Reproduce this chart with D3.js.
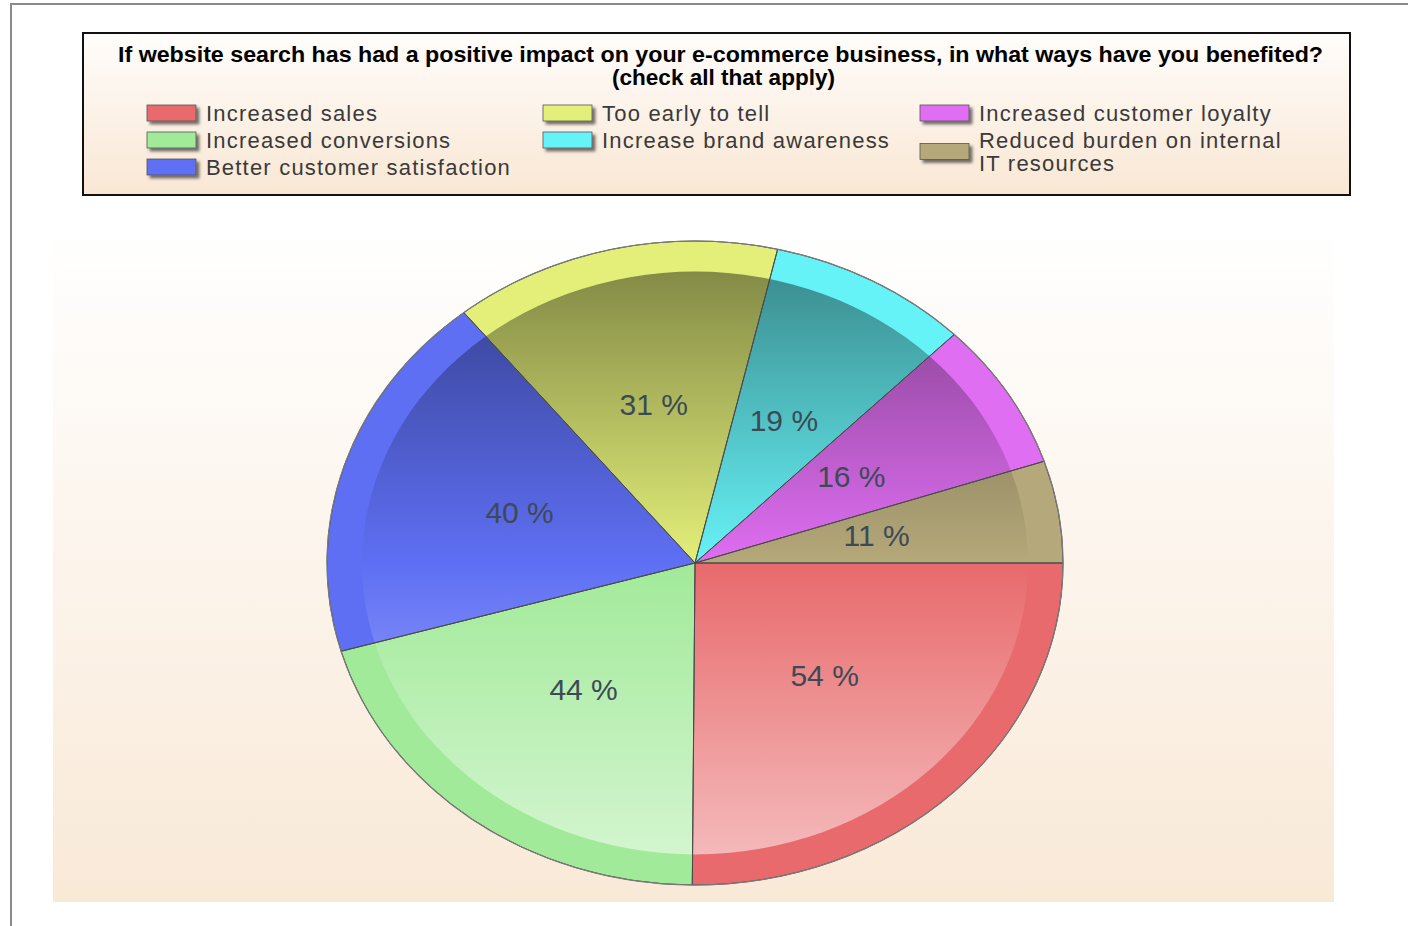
<!DOCTYPE html>
<html>
<head>
<meta charset="utf-8">
<script src="https://cdn.jsdelivr.net/npm/d3@7"></script>
<style>
  html, body { margin: 0; padding: 0; background: #ffffff; }
  svg { display: block; }
</style>
</head>
<body>
<svg id="chart" width="1408" height="926"></svg>
<script>
// ---- data ----
const titleLines = [
  "If website search has had a positive impact on your e-commerce business, in what ways have you benefited?",
  "(check all that apply)"
];
const categories = [
  "Increased sales",
  "Increased conversions",
  "Better customer satisfaction",
  "Too early to tell",
  "Increase brand awareness",
  "Increased customer loyalty",
  "Reduced burden on internal IT resources"
];
const legendLabels = [
  ["Increased sales"],
  ["Increased conversions"],
  ["Better customer satisfaction"],
  ["Too early to tell"],
  ["Increase brand awareness"],
  ["Increased customer loyalty"],
  ["Reduced burden on internal", "IT resources"]
];
const values = [54, 44, 40, 31, 19, 16, 11];
const colors = ["#e86a6c", "#a1ea99", "#5e6ff4", "#e3ef79", "#66f3f7", "#df6ef2", "#b5a87a"];

// ---- layout ----
const W = 1408, H = 926;
const svg = d3.select("#chart");
const defs = svg.append("defs");

// gradients
const bgGrad = defs.append("linearGradient").attr("id", "bgGrad")
  .attr("x1", 0).attr("y1", 0).attr("x2", 0).attr("y2", 1);
bgGrad.append("stop").attr("offset", "0%").attr("stop-color", "#ffffff");
bgGrad.append("stop").attr("offset", "100%").attr("stop-color", "#f9e9d7");

const legGrad = defs.append("linearGradient").attr("id", "legGrad")
  .attr("x1", 0).attr("y1", 0).attr("x2", 0).attr("y2", 1);
legGrad.append("stop").attr("offset", "0%").attr("stop-color", "#fffdfb");
legGrad.append("stop").attr("offset", "100%").attr("stop-color", "#f9e7d4");

const shadow = defs.append("filter").attr("id", "swShadow")
  .attr("x", "-20%").attr("y", "-40%").attr("width", "150%").attr("height", "200%");
shadow.append("feDropShadow").attr("dx", 3).attr("dy", 3).attr("stdDeviation", 1.5)
  .attr("flood-color", "#000").attr("flood-opacity", 0.55);

// outer frame
svg.append("rect").attr("x", 11).attr("y", 4).attr("width", W).attr("height", H)
  .attr("fill", "none").attr("stroke", "#8a8a8a").attr("stroke-width", 2);

// legend box
svg.append("rect").attr("x", 83).attr("y", 33).attr("width", 1267).attr("height", 162)
  .attr("fill", "url(#legGrad)").attr("stroke", "#111").attr("stroke-width", 2);

svg.selectAll("text.title").data(titleLines).join("text")
  .attr("class", "title")
  .attr("x", (d, i) => i === 0 ? 720.5 : 723.5)
  .attr("y", (d, i) => i === 0 ? 62 : 85)
  .attr("text-anchor", "middle")
  .attr("textLength", (d, i) => i === 0 ? 1205 : 223)
  .attr("lengthAdjust", "spacingAndGlyphs")
  .style("font-family", "'Liberation Sans', Arial, sans-serif")
  .style("font-weight", "bold")
  .style("font-size", "22px")
  .attr("fill", "#000")
  .text(d => d);

// legend items
const colX = [147, 543, 920];
const rowY = [113, 140, 167];
const colOf = i => (i < 3 ? 0 : (i < 5 ? 1 : 2));
const colStart = [0, 3, 5];
const legend = svg.append("g");
categories.forEach((c, i) => {
  const col = colOf(i), row = i - colStart[col];
  const lines = legendLabels[i];
  const cy = rowY[row] + (lines.length - 1) * 11.5;
  legend.append("rect")
    .attr("x", colX[col]).attr("y", cy - 8).attr("width", 49).attr("height", 16)
    .attr("fill", colors[i]).attr("stroke", "#555").attr("stroke-width", 0.8)
    .attr("filter", "url(#swShadow)");
  lines.forEach((ln, k) => {
    legend.append("text")
      .attr("x", colX[col] + 59).attr("y", rowY[row] + k * 23 + 8)
      .style("font-family", "'Liberation Sans', Arial, sans-serif")
      .style("font-size", "22px")
      .style("letter-spacing", "1.2px")
      .attr("fill", "#3a3a3a")
      .text(ln);
  });
});

// plot background
svg.append("rect").attr("x", 53).attr("y", 226).attr("width", 1281).attr("height", 676)
  .attr("fill", "url(#bgGrad)");

// ---- pie ----
const cx = 695, cy = 563, rx = 368, ry = 322, innerFrac = 0.905;
const pie = d3.pie().sort(null).value(d => d)
  .startAngle(Math.PI / 2).endAngle(Math.PI / 2 + 2 * Math.PI);
const arcs = pie(values);
const arc = d3.arc().innerRadius(0).outerRadius(rx);
const innerArc = d3.arc().innerRadius(0).outerRadius(rx * innerFrac);

const overlay = defs.append("linearGradient").attr("id", "shade")
  .attr("gradientUnits", "userSpaceOnUse")
  .attr("x1", 0).attr("x2", 0).attr("y1", -rx * innerFrac).attr("y2", rx * innerFrac);
overlay.append("stop").attr("offset", "0%").attr("stop-color", "#000").attr("stop-opacity", 0.42);
overlay.append("stop").attr("offset", "50%").attr("stop-color", "#000").attr("stop-opacity", 0.0);
overlay.append("stop").attr("offset", "50%").attr("stop-color", "#fff").attr("stop-opacity", 0.0);
overlay.append("stop").attr("offset", "100%").attr("stop-color", "#fff").attr("stop-opacity", 0.53);

const pg = svg.append("g").attr("transform", `translate(${cx},${cy}) scale(1,${ry / rx})`);
pg.selectAll("path.slice").data(arcs).join("path")
  .attr("class", "slice")
  .attr("d", arc)
  .attr("fill", (d, i) => colors[i]);

pg.append("path")
  .attr("d", innerArc({startAngle: 0, endAngle: 2 * Math.PI}))
  .attr("fill", "url(#shade)");

pg.selectAll("path.edge").data(arcs).join("path")
  .attr("class", "edge")
  .attr("d", arc)
  .attr("fill", "none")
  .attr("stroke", "#4a4a4a")
  .attr("stroke-width", 1)
  .attr("vector-effect", "non-scaling-stroke");

pg.append("path")
  .attr("d", arc({startAngle: 0, endAngle: 2 * Math.PI}))
  .attr("fill", "none").attr("stroke", "#7a7a7a").attr("stroke-width", 1.2)
  .attr("vector-effect", "non-scaling-stroke");

// labels
const labelArc = d3.arc().innerRadius(rx * 0.5).outerRadius(rx * 0.5);
svg.append("g").selectAll("text").data(arcs).join("text")
  .attr("x", d => cx + labelArc.centroid(d)[0])
  .attr("y", d => cy - 2 + labelArc.centroid(d)[1] * ry / rx)
  .attr("text-anchor", "middle")
  .attr("dominant-baseline", "central")
  .style("font-family", "'Liberation Sans', Arial, sans-serif")
  .style("font-size", "30px")
  .attr("fill", "#3d4a55")
  .text(d => d.data + " %");
</script>
</body>
</html>
